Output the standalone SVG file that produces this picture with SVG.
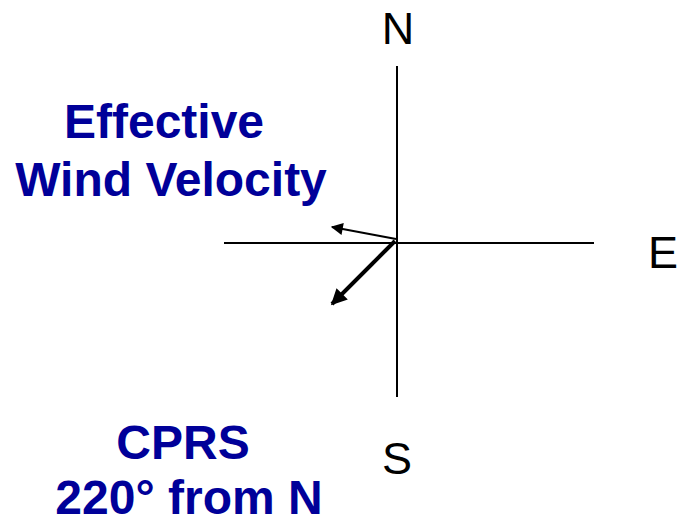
<svg xmlns="http://www.w3.org/2000/svg" width="679" height="521" viewBox="0 0 679 521">
<style>
.ax{stroke:#000;stroke-width:2;fill:none}
.dir{font-family:"Liberation Sans",Arial,sans-serif;font-size:45px;fill:#000;text-anchor:middle}
.lbl{font-family:"Liberation Sans",Arial,sans-serif;font-size:48px;font-weight:bold;fill:#000099;text-anchor:middle}
</style>
<defs>
<marker id="h1" viewBox="0 0 10 10" refX="9" refY="5" markerWidth="7" markerHeight="6" orient="auto" markerUnits="strokeWidth">
<path d="M0,0 L10,5 L0,10 z" fill="#000"/>
</marker>
<marker id="h2" viewBox="0 0 10 10" refX="9" refY="5" markerWidth="4.5" markerHeight="4" orient="auto" markerUnits="strokeWidth">
<path d="M0,0 L10,5 L0,10 z" fill="#000"/>
</marker>
</defs>
<rect width="679" height="521" fill="#fff"/>
<g id="axes">
<line class="ax" x1="397" y1="66" x2="397" y2="397"/>
<line class="ax" x1="224" y1="243" x2="594" y2="243"/>
</g>
<g id="connectors">
<line x1="396" y1="239" x2="332" y2="227" stroke="#000" stroke-width="2" marker-end="url(#h1)"/>
<line x1="395" y1="241" x2="332" y2="304" stroke="#000" stroke-width="4" marker-end="url(#h2)"/>
</g>
<g id="N"><text class="dir" x="398" y="44">N</text></g>
<g id="E"><text class="dir" x="663" y="268">E</text></g>
<g id="S"><text class="dir" x="397" y="474">S</text></g>
<g id="effective"><text class="lbl" x="164" y="138">Effective</text><text class="lbl" x="171" y="196">Wind Velocity</text></g>
<g id="cprs"><text class="lbl" x="183" y="459">CPRS</text><text class="lbl" x="189" y="514">220° from N</text></g>
</svg>
